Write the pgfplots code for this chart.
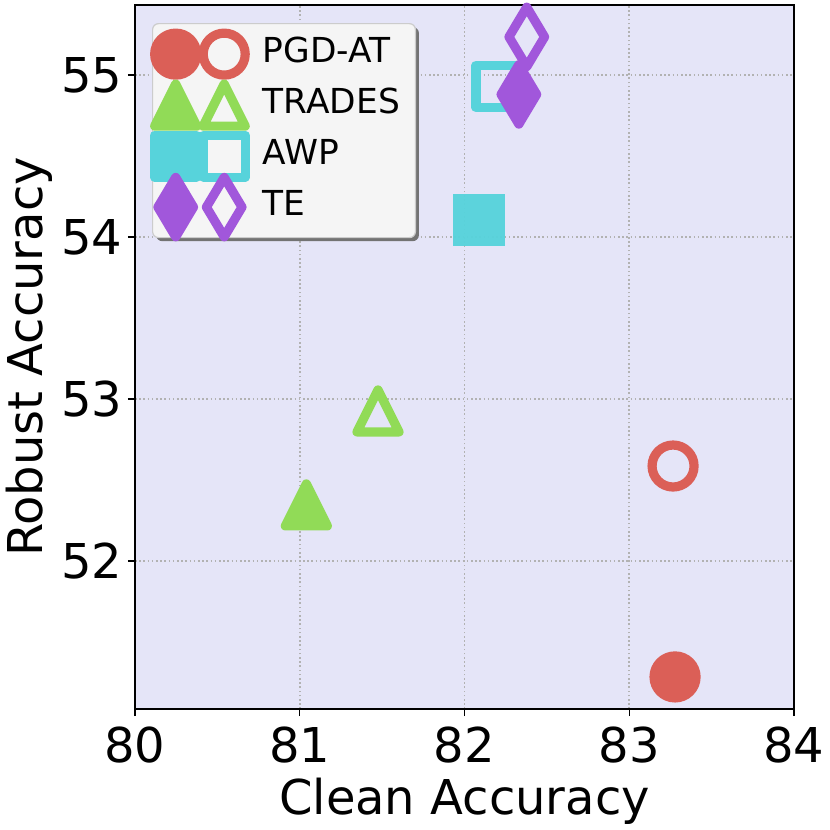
\documentclass[border=0pt]{standalone}
\usepackage{pgfplots}
\pgfplotsset{compat=1.18}
\usepackage{fontspec}
\setmainfont{DejaVu Sans}
\usetikzlibrary{shadows}
\definecolor{cR}{HTML}{DB5F57}
\definecolor{cG}{HTML}{91DB57}
\definecolor{cC}{HTML}{57D3DB}
\definecolor{cP}{HTML}{A157DB}
\definecolor{bgc}{HTML}{E5E5F8}
\pgfdeclareplotmark{mc}{\pgfpathcircle{\pgfpointorigin}{21pt}\pgfusepathqfillstroke}
\pgfdeclareplotmark{mt}{\pgfpathmoveto{\pgfqpoint{0pt}{21pt}}\pgfpathlineto{\pgfqpoint{-21pt}{-21pt}}\pgfpathlineto{\pgfqpoint{21pt}{-21pt}}\pgfpathclose\pgfusepathqfillstroke}
\pgfdeclareplotmark{ms}{\pgfpathrectangle{\pgfqpoint{-21pt}{-21pt}}{\pgfqpoint{42pt}{42pt}}\pgfusepathqfillstroke}
\pgfdeclareplotmark{msf}{\pgfsetcornersarced{\pgfpoint{4.6pt}{4.6pt}}\pgfpathrectangle{\pgfqpoint{-25.6pt}{-25.6pt}}{\pgfqpoint{51.2pt}{51.2pt}}\pgfusepathqfill}
\pgfdeclareplotmark{md}{\pgfpathmoveto{\pgfqpoint{0pt}{29.7pt}}\pgfpathlineto{\pgfqpoint{-17.8pt}{0pt}}\pgfpathlineto{\pgfqpoint{0pt}{-29.7pt}}\pgfpathlineto{\pgfqpoint{17.8pt}{0pt}}\pgfpathclose\pgfusepathqfillstroke}
\tikzset{
 mkf/.style={mark options={solid,draw=#1,fill=#1,line width=9.2pt,line join=round}},
 mko/.style={mark options={solid,draw=#1,fill opacity=0,line width=9.2pt,line join=round}},
}
\newcommand{\twomarks}[2]{%
 \path[overlay,yshift=0pt] plot[only marks,mark=#2,mkf=#1] coordinates {(0pt,0pt)};
 \path[overlay,yshift=0pt] plot[only marks,mark=#2,mko=#1] coordinates {(48.5pt,0pt)};
 \path (-22.5pt,10.2pt) (78pt,10.2pt);
}
\begin{document}
\begin{tikzpicture}
\path[use as bounding box] (-135pt,-121pt) rectangle (695pt,709pt);
\begin{axis}[
 at={(0pt,0pt)},anchor=south west,
 scale only axis,width=659pt,height=704pt,
 xmin=80,xmax=84,ymin=51.086,ymax=55.432,
 xtick={80,81,82,83,84},ytick={52,53,54,55},
 axis background/.style={fill=bgc},
 axis line style={line width=1.5pt},
 tick style={line width=1.4pt,black},
 tick align=outside,tick pos=left,
 major tick length=7pt,
 grid=major,
 major grid style={line width=1.6pt,color=black!30,dash pattern=on 1.6pt off 2.6pt},
 every tick label/.append style={font=\fontsize{48}{48}\selectfont},
 /pgf/number format/assume math mode=true,
 xticklabel style={yshift=-7pt},
 yticklabel style={xshift=-2pt},
 xlabel={Clean Accuracy},ylabel={Robust Accuracy},
 label style={font=\fontsize{48}{48}\selectfont},
 xlabel style={yshift=-8pt},
 ylabel style={yshift=2pt},
 clip=true,
 legend cell align=left,
 legend style={
  at={(axis description cs:0.0258,0.9744)},anchor=north west,
  fill=black!4,draw=black!20,line width=1.2pt,rounded corners=6pt,
  drop shadow={shadow xshift=3.5pt,shadow yshift=-3.5pt,fill=black!55,opacity=1},
  font=\fontsize{34.4}{34.4}\selectfont,
  row sep=0pt,
  column sep=0pt,
  inner xsep=0pt,inner ysep=5pt,
  nodes={text height=20pt,text depth=4pt,inner ysep=13.5pt,inner xsep=8.5pt},
 },
]
\addlegendimage{legend image code/.code={\twomarks{cR}{mc}}}
\addlegendentry{PGD-AT}
\addlegendimage{legend image code/.code={\twomarks{cG}{mt}}}
\addlegendentry{\mbox{TRADES\rule{7pt}{0pt}}}
\addlegendimage{legend image code/.code={\twomarks{cC}{ms}}}
\addlegendentry{AWP}
\addlegendimage{legend image code/.code={\twomarks{cP}{md}}}
\addlegendentry{TE}
\addplot[forget plot,only marks,mark=mc,mkf=cR] coordinates {(83.278,51.284)};
\addplot[forget plot,only marks,mark=mc,mko=cR] coordinates {(83.266,52.586)};
\addplot[forget plot,only marks,mark=mt,mkf=cG] coordinates {(81.04,52.346)};
\addplot[forget plot,only marks,mark=mt,mko=cG] coordinates {(81.475,52.926)};
\addplot[forget plot,only marks,mark=msf,mark options={solid,fill=cC,draw=none,fill opacity=0.96}] coordinates {(82.088,54.105)};
\addplot[forget plot,only marks,mark=ms,mko=cC] coordinates {(82.197,54.93)};
\addplot[forget plot,only marks,mark=md,mkf=cP] coordinates {(82.33,54.88)};
\addplot[forget plot,only marks,mark=md,mko=cP] coordinates {(82.378,55.235)};
\end{axis}
\end{tikzpicture}
\end{document}
